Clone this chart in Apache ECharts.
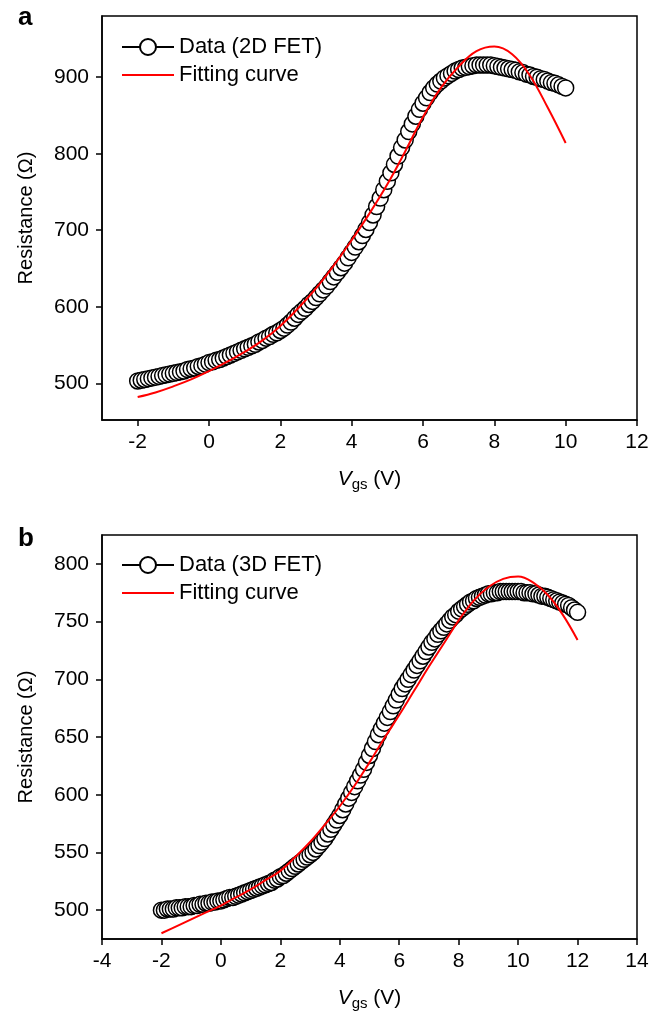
<!DOCTYPE html>
<html lang="en">
<head>
<meta charset="UTF-8">
<title>Resistance vs Vgs</title>
<style>
    * { margin: 0; padding: 0; box-sizing: border-box; }
    html, body { background: #fff; }
    .chart { width: 653px; height: 1019px; }
</style>
</head>
<body>
<div class="chart" id="chart"></div>

<script src="https://cdn.jsdelivr.net/npm/echarts@6/dist/echarts.min.js"></script>
<script>
    // gate sweep: both measurements start at -2 V
    const sweepStart = -2
    const dataStep = 0.1
    const fitStep = 0.5

    // panel a - 2D FET, Vgs -2 ... 10 V
    const resistance2D = [
        503, 504, 505, 506, 507, 508, 509, 510, 511, 512,
        513, 514, 515, 516, 518, 519, 520, 522, 523, 525,
        527, 528, 530, 531, 533, 535, 537, 539, 541, 543,
        545, 547, 549, 551, 554, 556, 559, 561, 564, 566,
        569, 572, 576, 580, 585, 590, 594, 598, 603, 607,
        612, 617, 622, 627, 633, 639, 645, 651, 657, 664,
        671, 678, 685, 693, 701, 710, 720, 731, 742, 753,
        764, 775, 786, 797, 808, 818, 829, 839, 849, 858,
        866, 873, 880, 886, 891, 895, 899, 902, 905, 908,
        910, 912, 913, 914, 915, 916, 916, 916, 916, 916,
        915, 914, 913, 912, 911, 910, 909, 907, 906, 904,
        903, 901, 900, 898, 897, 895, 893, 892, 890, 888,
        886
    ]
    const fit2D = [
        482, 488, 496, 505, 516, 528, 541, 556, 575, 598,
        624, 654, 687, 722, 760, 803, 848, 886, 914, 934,
        940, 930, 902, 860, 814
    ]

    // panel b - 3D FET, Vgs -2 ... 12 V
    const resistance3D = [
        500, 500, 501, 501, 501, 502, 502, 502, 503, 503,
        503, 504, 504, 505, 505, 506, 506, 507, 507, 508,
        508, 509, 510, 511, 511, 512, 513, 514, 515, 516,
        517, 518, 519, 520, 521, 522, 523, 524, 526, 527,
        529, 530, 532, 534, 536, 538, 540, 542, 544, 546,
        548, 550, 553, 556, 559, 562, 566, 570, 574, 578,
        582, 587, 592, 597, 602, 607, 612, 617, 622, 628,
        634, 640, 646, 652, 657, 662, 667, 672, 677, 682,
        687, 692, 696, 700, 704, 708, 712, 716, 720, 724,
        728, 732, 735, 739, 742, 745, 748, 751, 754, 756,
        759, 761, 763, 765, 767, 768, 770, 771, 772, 773,
        774, 774, 775, 775, 776, 776, 776, 776, 776, 776,
        776, 776, 775, 775, 775, 774, 774, 773, 772, 772,
        771, 770, 769, 768, 767, 766, 765, 764, 762, 760,
        758
    ]
    const fit3D = [
        480, 486, 492, 498, 504, 511, 518, 526, 534, 546,
        559, 574, 590, 608, 628, 649, 669, 690, 711, 731,
        751, 768, 780, 787, 789, 784, 773, 756, 734
    ]

    const xTicksA = [-2, 0, 2, 4, 6, 8, 10, 12]
    const yTicksA = [500, 600, 700, 800, 900]
    const xTicksB = [-4, -2, 0, 2, 4, 6, 8, 10, 12, 14]
    const yTicksB = [500, 550, 600, 650, 700, 750, 800]

    const toPairs = (values, step) =>
        values.map((r, i) => [+(sweepStart + i * step).toFixed(2), r])

    const font = 'Arial, "Liberation Sans", sans-serif'
    const black = '#000'

    function makeXAxis(gridIndex, min, max, ticks) {
        return {
            type: 'value', gridIndex, min, max,
            name: '{i|V}{s|gs} (V)',
            nameLocation: 'middle',
            nameGap: 46,
            nameTextStyle: {
                color: black, fontFamily: font, fontSize: 21,
                rich: {
                    i: { fontStyle: 'italic', fontSize: 21, fontFamily: font, color: black },
                    s: { fontSize: 15, fontFamily: font, color: black, padding: [11, 0, 0, 0] }
                }
            },
            axisLine: { onZero: false, lineStyle: { color: black, width: 1.5 } },
            axisTick: { length: 6, customValues: ticks, lineStyle: { color: black, width: 1.5 } },
            axisLabel: { customValues: ticks, margin: 12, fontSize: 21, color: black, fontFamily: font },
            splitLine: { show: false }
        }
    }

    function makeYAxis(gridIndex, min, max, ticks) {
        return {
            type: 'value', gridIndex, min, max,
            name: 'Resistance (Ω)',
            nameLocation: 'middle',
            nameRotate: 90,
            nameGap: 66,
            nameTextStyle: { color: black, fontFamily: font, fontSize: 20 },
            axisLine: { onZero: false, lineStyle: { color: black, width: 1.5 } },
            axisTick: { length: 6, customValues: ticks, lineStyle: { color: black, width: 1.5 } },
            axisLabel: { customValues: ticks, margin: 13, fontSize: 21, color: black, fontFamily: font },
            splitLine: { show: false }
        }
    }

    function dataSeries(name, values, idx) {
        return {
            name, type: 'line',
            xAxisIndex: idx, yAxisIndex: idx,
            data: toPairs(values, dataStep),
            symbol: 'circle', symbolSize: 16,
            itemStyle: { color: '#fff', borderColor: black, borderWidth: 1.5 },
            lineStyle: { color: black, width: 1.5 },
            emphasis: { disabled: true },
            animation: false, z: 2
        }
    }

    function fitSeries(values, idx) {
        return {
            name: 'Fitting curve', type: 'line',
            xAxisIndex: idx, yAxisIndex: idx,
            data: toPairs(values, fitStep),
            smooth: 0.4, symbol: 'none',
            itemStyle: { color: '#ff0000' },
            lineStyle: { color: '#ff0000', width: 2 },
            animation: false, z: 3
        }
    }

    function makeLegend(top, dataName) {
        return {
            orient: 'vertical', left: 121, top,
            itemWidth: 52, itemHeight: 20, itemGap: 6,
            padding: 0,
            data: [
                dataName,
                { name: 'Fitting curve', itemStyle: { opacity: 0 } }
            ],
            textStyle: { fontSize: 22, color: black, fontFamily: font },
            selectedMode: false
        }
    }

    const chart = echarts.init(document.getElementById('chart'))

    chart.setOption({
        animation: false,
        title: [
            { text: 'a', left: 18, top: 5, padding: 0, textStyle: { fontSize: 26, fontWeight: 'bold', color: black, fontFamily: font } },
            { text: 'b', left: 18, top: 526, padding: 0, textStyle: { fontSize: 26, fontWeight: 'bold', color: black, fontFamily: font } }
        ],
        grid: [
            { left: 102, right: 16, top: 16, height: 404, show: true, borderColor: black, borderWidth: 1.5 },
            { left: 102, right: 16, top: 535, height: 404, show: true, borderColor: black, borderWidth: 1.5 }
        ],
        legend: [
            makeLegend(36, 'Data (2D FET)'),
            makeLegend(554, 'Data (3D FET)')
        ],
        xAxis: [
            makeXAxis(0, -3, 12, xTicksA),
            makeXAxis(1, -4, 14, xTicksB)
        ],
        yAxis: [
            makeYAxis(0, 452, 980, yTicksA),
            makeYAxis(1, 475, 825, yTicksB)
        ],
        series: [
            dataSeries('Data (2D FET)', resistance2D, 0),
            fitSeries(fit2D, 0),
            dataSeries('Data (3D FET)', resistance3D, 1),
            fitSeries(fit3D, 1)
        ]
    })
</script>
</body>
</html>
